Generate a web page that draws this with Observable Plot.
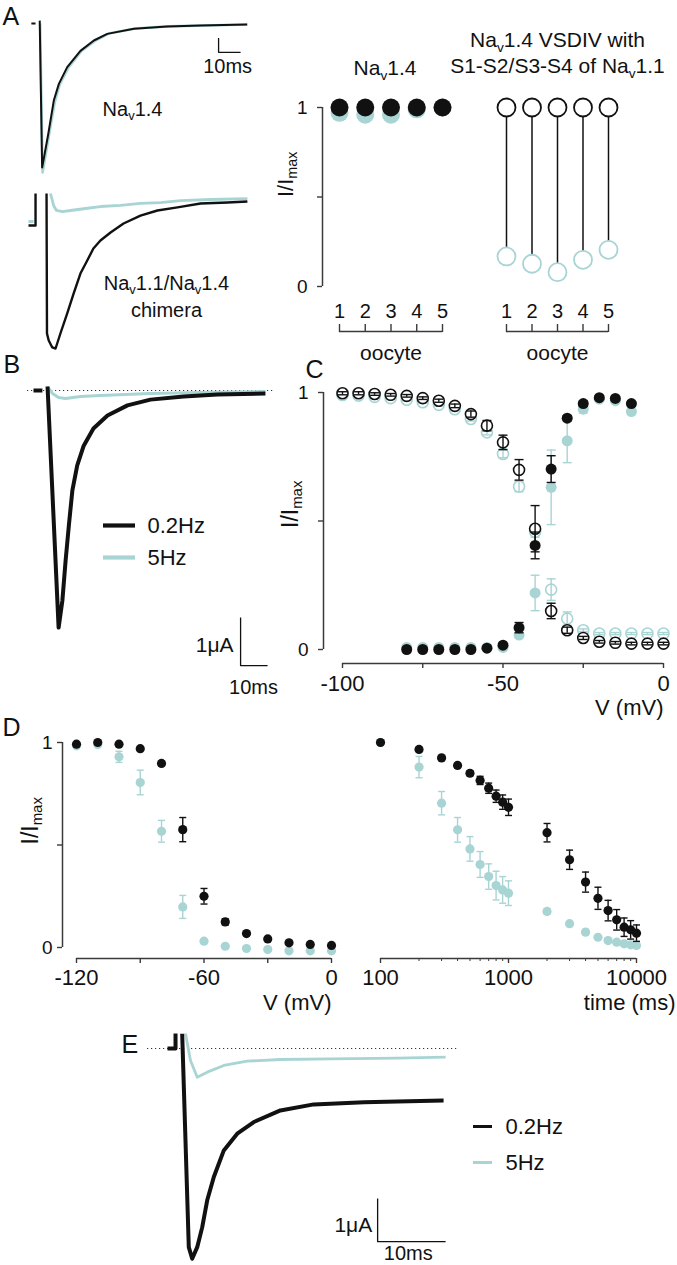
<!DOCTYPE html>
<html><head><meta charset="utf-8">
<script src="https://cdn.jsdelivr.net/npm/d3@7"></script>
<script src="https://cdn.jsdelivr.net/npm/@observablehq/plot@0.6"></script>
<style>
html,body{margin:0;padding:0;background:#fff;}
#fig{position:relative;width:677px;height:1265px;overflow:hidden;background:#fff;}
#fig svg{position:absolute;overflow:visible;}
</style></head><body><div id="fig"></div>
<script>
// ================= DATA =================
// Panel A – current traces (time in ms, normalized current); NaN = gap
const traceA_Nav14_02Hz = [
 {t:1.3,I:0},{t:3.2,I:0},{t:3.3,I:NaN},
 {t:5.1,I:0.02},{t:6.2,I:-1.0},{t:9.0,I:-0.766},{t:11.5,I:-0.535},{t:13.8,I:-0.419},{t:17.6,I:-0.303},
 {t:23.6,I:-0.19},{t:29.7,I:-0.118},{t:35.8,I:-0.072},{t:47.9,I:-0.037},{t:63,I:-0.021},{t:78.2,I:-0.014},{t:99.4,I:-0.007}
];
const traceA_Nav14_5Hz = [
 {t:5.3,I:0.0},{t:6.4,I:-1.035},{t:9.3,I:-0.778},{t:12.0,I:-0.54},{t:14.3,I:-0.42},{t:18.2,I:-0.305},
 {t:24.1,I:-0.19},{t:30.5,I:-0.118},{t:36.4,I:-0.07},{t:48.6,I:-0.035},{t:63.2,I:-0.02},{t:99.5,I:-0.007}
];
const traceA_Chim_02Hz = [
 {t:0,I:-0.196},{t:3.2,I:-0.196},{t:3.2,I:0.013},{t:3.3,I:NaN},
 {t:8.2,I:0.013},{t:8.4,I:-0.902},{t:9.2,I:-0.948},{t:10.8,I:-0.993},{t:12.3,I:-1.0},{t:14.5,I:-0.902},
 {t:17.6,I:-0.771},{t:20.5,I:-0.641},{t:23.6,I:-0.51},{t:26.7,I:-0.425},{t:29.5,I:-0.346},{t:32.7,I:-0.294},
 {t:37.3,I:-0.242},{t:43.2,I:-0.183},{t:50.9,I:-0.131},{t:58.6,I:-0.098},{t:67.7,I:-0.078},{t:78.2,I:-0.052},
 {t:90.5,I:-0.046},{t:99.5,I:-0.039}
];
const traceA_Chim_5Hz = [
 {t:0,I:-0.17},{t:2.3,I:-0.17},{t:2.4,I:NaN},
 {t:10,I:0.013},{t:11.4,I:-0.065},{t:12.7,I:-0.098},{t:15.5,I:-0.105},{t:19.1,I:-0.098},{t:25.9,I:-0.085},
 {t:32.7,I:-0.072},{t:41.8,I:-0.065},{t:50.9,I:-0.052},{t:60,I:-0.046},{t:69.1,I:-0.033},{t:82.7,I:-0.026},{t:99.5,I:-0.02}
];
const scaleBarA = [{t:86.4,I:-0.1},{t:86.4,I:-0.2},{t:96.4,I:-0.2}];

// Panel A – per-oocyte normalized currents
const oocytes = [1,2,3,4,5];
const nav14_02Hz = [1,1,1,1,1];
const nav14_5Hz = [0.97,0.96,0.96,0.99,1.0];
const chim_02Hz = [1,1,1,1,1];
const chim_5Hz = [0.168,0.127,0.080,0.149,0.205];

// Panel B – trace (ms, μA)
const traceB_02Hz = [
 {t:0,I:0},{t:3.3,I:0},{t:3.4,I:NaN},
 {t:5.2,I:0.083},{t:9.3,I:-4.94},{t:10.7,I:-4.375},{t:11.9,I:-3.54},{t:13.1,I:-2.81},{t:14.4,I:-2.08},
 {t:16.2,I:-1.56},{t:18.6,I:-1.15},{t:22.2,I:-0.79},{t:27.4,I:-0.52},{t:34.8,I:-0.31},{t:43.3,I:-0.19},
 {t:55.6,I:-0.125},{t:68.1,I:-0.083},{t:85.9,I:-0.0625}
];
const traceB_5Hz = [
 {t:5.2,I:0.083},{t:7.0,I:-0.0625},{t:9.3,I:-0.146},{t:11.9,I:-0.167},{t:17.4,I:-0.125},{t:24.8,I:-0.104},
 {t:43.3,I:-0.0625},{t:61.9,I:-0.042},{t:85.9,I:-0.021}
];
const scaleBarB = [{t:76.7,I:-4.73},{t:76.7,I:-5.73},{t:86.7,I:-5.73}];

// Panel C – activation / inactivation (mV)
const vInact = [-100,-95,-90,-85,-80,-75,-70,-65,-60,-55,-50,-45,-40,-35,-30,-25,-20,-15,-10,-5,0];
const inact02 = [0.997,0.997,0.994,0.991,0.987,0.978,0.968,0.948,0.916,0.871,0.806,0.699,0.470,0.150,0.075,0.045,0.030,0.026,0.023,0.023,0.023];
const inact02Err = [0.006,0.006,0.005,0.005,0.005,0.005,0.006,0.007,0.012,0.02,0.028,0.04,0.09,0.03,0.012,0.006,0.005,0.005,0.005,0.005,0.005];
const inact5 = [0.990,0.988,0.983,0.978,0.972,0.962,0.952,0.935,0.897,0.845,0.761,0.634,0.457,0.233,0.120,0.075,0.062,0.062,0.062,0.062,0.062];
const inact5Err = [0.004,0.004,0.004,0.004,0.004,0.004,0.005,0.006,0.008,0.01,0.015,0.02,0.02,0.042,0.026,0.005,0.004,0.004,0.004,0.004,0.004];
const vAct = [-80,-75,-70,-65,-60,-55,-50,-45,-40,-35,-30,-25,-20,-15,-10];
const act02 = [0,0,0,0,0,0.005,0.017,0.085,0.405,0.702,0.900,0.957,0.980,0.977,0.957];
const act02Err = [0.003,0.003,0.003,0.003,0.003,0.003,0.005,0.02,0.052,0.052,0.01,0.01,0.005,0.005,0.008];
const act5 = [0.008,0.008,0.008,0.008,0.008,0.008,0.008,0.056,0.22,0.631,0.812,0.935,0.974,0.968,0.926];
const act5Err = [0.003,0.003,0.003,0.003,0.003,0.003,0.004,0.01,0.069,0.145,0.085,0.015,0.005,0.005,0.008];

// Panel D – steady-state inactivation (mV) and recovery vs time (ms)
const vSS = [-120,-110,-100,-90,-80,-70,-60,-50,-40,-30,-20,-10,0];
const ss02 = [0.992,1.0,0.992,0.970,0.898,0.575,0.250,0.125,0.068,0.042,0.023,0.015,0.010];
const ss02Err = [0.004,0.004,0.005,0.006,0.01,0.059,0.038,0.015,0.008,0.005,0.004,0.004,0.004];
const ss5 = [0.984,0.99,0.930,0.805,0.567,0.198,0.031,0.006,-0.005,-0.010,-0.016,-0.016,-0.016];
const ss5Err = [0.005,0.005,0.027,0.06,0.053,0.056,0.008,0.005,0.004,0.004,0.004,0.004,0.004];
const tRec = [100,200,300,400,500,600,700,800,900,1000,2000,3000,4000,5000,6000,7000,8000,9000,10000];
const rec02 = [1.0,0.966,0.925,0.888,0.85,0.815,0.777,0.738,0.709,0.684,0.56,0.428,0.319,0.24,0.18,0.135,0.099,0.086,0.07];
const rec02Err = [0.004,0.006,0.008,0.01,0.012,0.02,0.025,0.03,0.035,0.04,0.045,0.047,0.049,0.054,0.05,0.05,0.045,0.045,0.04];
const rec5 = [1.0,0.88,0.704,0.574,0.481,0.405,0.346,0.302,0.281,0.265,0.176,0.116,0.075,0.05,0.034,0.026,0.018,0.013,0.01];
const rec5Err = [0.004,0.052,0.057,0.06,0.06,0.063,0.062,0.07,0.065,0.06,0.012,0.005,0.005,0.004,0.004,0.004,0.004,0.004,0.004];

// Panel E – trace (ms, μA)
const traceE_02Hz = [
 {t:0,I:0},{t:1.18,I:0},{t:1.18,I:0.35},{t:1.3,I:NaN},
 {t:2.16,I:0.342},{t:3.13,I:-4.62},{t:3.63,I:-4.89},{t:4.37,I:-4.62},{t:5.1,I:-4.16},{t:5.84,I:-3.53},
 {t:6.81,I:-2.99},{t:8.28,I:-2.37},{t:10.25,I:-1.98},{t:12.69,I:-1.71},{t:16.6,I:-1.44},{t:21.5,I:-1.30},
 {t:28.9,I:-1.25},{t:33.8,I:-1.23},{t:40.6,I:-1.21}
];
const traceE_5Hz = [
 {t:2.65,I:0.35},{t:3.38,I:-0.28},{t:4.37,I:-0.667},{t:5.84,I:-0.55},{t:8.28,I:-0.395},{t:11.72,I:-0.295},
 {t:16.6,I:-0.256},{t:24,I:-0.24},{t:33.8,I:-0.226},{t:40.9,I:-0.202}
];
const scaleBarE = [{t:30.9,I:-3.49},{t:30.9,I:-4.49},{t:40.9,I:-4.49}];

const legendLabels = ["0.2Hz","5Hz"];

// ================= STYLE / HELPERS =================
const BLACK = "#111", CYAN = "#a8d4d4", AXIS = "#3a3a3a";
const FONT = '"Liberation Sans", Arial, Helvetica, sans-serif';
const fig = document.getElementById("fig");

function place({left, top, width, height, frame, xs = {}, ys = {}, marks, color}) {
  const [fl, ft, fr, fb] = frame;
  const x = {...xs}; if (xs.range) x.range = xs.range.map(v => v - left);
  const y = {...ys}; if (ys.range) y.range = ys.range.map(v => v - top);
  const opts = {
    width, height,
    marginLeft: fl - left, marginTop: ft - top, marginRight: left + width - fr, marginBottom: top + height - fb,
    x, y,
    style: {fontFamily: FONT, fontSize: "20px", color: BLACK, background: "transparent", overflow: "visible"},
    marks
  };
  if (color) opts.color = color;
  const p = Plot.plot(opts);
  p.style.left = left + "px"; p.style.top = top + "px";
  fig.appendChild(p);
  return p;
}

const capSymbol = {draw(ctx, size) { const w = Math.sqrt(size / Math.PI); ctx.moveTo(-w, 0); ctx.lineTo(w, 0); }};
function rows(xs, ys, es) { return xs.map((x, i) => ({x, y: ys[i], e: es ? es[i] : 0})); }
function errMarks(data, color, cap, sw = 1.4) {
  return [
    Plot.ruleX(data, {x: "x", y1: d => d.y - d.e, y2: d => d.y + d.e, stroke: color, strokeWidth: sw}),
    Plot.dot(data, {x: "x", y: d => d.y + d.e, symbol: capSymbol, r: cap, stroke: color, strokeWidth: sw, fill: "none"}),
    Plot.dot(data, {x: "x", y: d => d.y - d.e, symbol: capSymbol, r: cap, stroke: color, strokeWidth: sw, fill: "none"})
  ];
}
const tf01 = d => (d === 0.5 ? "" : String(d));
const lineOpts = (c, w) => ({x: "t", y: "I", stroke: c, strokeWidth: w, strokeLinejoin: "round", strokeLinecap: "butt"});
const letter = (s, dx, dy) => Plot.text([s], {frameAnchor: "top-left", dx, dy, lineAnchor: "top", textAnchor: "start", fontSize: 25});

// ================= PANEL A =================
place({left: 0, top: 0, width: 270, height: 180, frame: [0, 0, 270, 180],
  xs: {domain: [0, 100], range: [28, 248], axis: null}, ys: {domain: [-1, 0], range: [167, 23], axis: null},
  marks: [
    Plot.line(traceA_Nav14_5Hz, lineOpts(CYAN, 2.6)),
    Plot.line(traceA_Nav14_02Hz, lineOpts(BLACK, 2)),
    Plot.line(scaleBarA, lineOpts(BLACK, 1.3)),
    Plot.text(["10ms"], {x: 90.5, y: -0.30, fontSize: 20}),
    Plot.text(["Na{v}1.4"], {x: 47.3, y: -0.60, fontSize: 20}),
    letter("A", 2, 7)
  ]});

place({left: 0, top: 180, width: 270, height: 180, frame: [0, 180, 270, 360],
  xs: {domain: [0, 100], range: [28, 248], axis: null}, ys: {domain: [-1, 0], range: [348, 195], axis: null},
  marks: [
    Plot.line(traceA_Chim_5Hz, lineOpts(CYAN, 2.8)),
    Plot.line(traceA_Chim_02Hz, lineOpts(BLACK, 2.4)),
    Plot.text(["Na{v}1.1/Na{v}1.4"], {x: 62.7, y: -0.575, fontSize: 20}),
    Plot.text(["chimera"], {x: 62.7, y: -0.75, fontSize: 20})
  ]});

// oocyte dot plots
place({left: 270, top: 0, width: 190, height: 300, frame: [322, 107, 460, 286],
  xs: {domain: [1, 5], range: [339, 442], axis: null}, ys: {domain: [0, 1]},
  marks: [
    Plot.ruleX([1], {y1: 0, y2: 1, dx: -17, stroke: AXIS, strokeWidth: 1.5}),
    Plot.axisY({ticks: [0, 0.5, 1], tickFormat: tf01, tickSize: 5, tickPadding: 10, fontSize: 19, stroke: AXIS, strokeWidth: 1.4, label: null}),
    Plot.dot(rows(oocytes, nav14_5Hz), {x: "x", y: "y", r: 9, fill: CYAN}),
    Plot.dot(rows(oocytes, nav14_02Hz), {x: "x", y: "y", r: 9, fill: BLACK}),
    Plot.text(["I/I{max}"], {frameAnchor: "left", dx: -37, rotate: -90, fontSize: 22}),
    Plot.text(["Na{v}1.4"], {x: 3, frameAnchor: "top", dx: -6, dy: -47, fontSize: 21})
  ]});
place({left: 440, top: 0, width: 237, height: 300, frame: [490, 107, 640, 286],
  xs: {domain: [1, 5], range: [506, 608], axis: null}, ys: {domain: [0, 1], axis: null},
  marks: [
    Plot.ruleX(oocytes.map((o, i) => ({x: o, lo: chim_5Hz[i], hi: chim_02Hz[i]})), {x: "x", y1: "lo", y2: "hi", stroke: BLACK, strokeWidth: 1.5}),
    Plot.dot(rows(oocytes, chim_5Hz), {x: "x", y: "y", r: 9, fill: "white", stroke: CYAN, strokeWidth: 1.8}),
    Plot.dot(rows(oocytes, chim_02Hz), {x: "x", y: "y", r: 9, fill: "white", stroke: BLACK, strokeWidth: 1.8}),
    Plot.text(["Na{v}1.4 VSDIV with"], {x: 3, frameAnchor: "top", dy: -75, fontSize: 21}),
    Plot.text(["S1-S2/S3-S4 of Na{v}1.1"], {x: 3, frameAnchor: "top", dy: -49, fontSize: 21})
  ]});
function oocyteAxis(x0, x1) {
  place({left: x0 - 20, top: 295, width: x1 - x0 + 40, height: 70, frame: [x0, 331, x1, 365],
    xs: {domain: [1, 5]}, ys: {domain: [0, 1], range: [331, 365], axis: null},
    marks: [
      Plot.ruleY([0], {x1: 1, x2: 5, stroke: AXIS, strokeWidth: 1.5}),
      Plot.axisX({ticks: oocytes, tickFormat: d => String(d), anchor: "top", tickSize: 8, tickPadding: 6, fontSize: 20, stroke: AXIS, strokeWidth: 1.4, label: null}),
      Plot.text(["oocyte"], {frameAnchor: "top", dy: 14, fontSize: 21})
    ]});
}
oocyteAxis(339, 442);
oocyteAxis(506, 608);

// ================= PANEL B =================
place({left: 0, top: 350, width: 300, height: 350, frame: [27, 355, 273, 700],
  xs: {domain: [0, 100], range: [33, 303], axis: null}, ys: {domain: [-5, 0], range: [630, 390], axis: null},
  marks: [
    Plot.ruleY([0], {stroke: "#333", strokeWidth: 1.2, strokeDasharray: "1.2,2.8"}),
    Plot.line(traceB_5Hz, lineOpts(CYAN, 3)),
    Plot.line(traceB_02Hz, lineOpts(BLACK, 4)),
    Plot.line(scaleBarB, lineOpts(BLACK, 1.3)),
    Plot.text(["1μA"], {x: 74.1, y: -5.31, textAnchor: "end", fontSize: 21}),
    Plot.text(["10ms"], {x: 81.5, y: -6.19, fontSize: 20}),
    letter("B", -24, 0)
  ]});
function legend(left, top, x0, x1, y0, y1, sw, dx) {
  place({left, top, width: 140, height: (y1 - y0) + 40, frame: [left, top, left + 140, top + (y1 - y0) + 40],
    xs: {domain: [0, 1], range: [x0, x1], axis: null},
    ys: {type: "point", domain: legendLabels, range: [y0, y1], padding: 0, axis: null},
    color: {domain: legendLabels, range: [BLACK, CYAN]},
    marks: [
      Plot.ruleY(legendLabels, {y: d => d, x1: 0, x2: 1, stroke: d => d, strokeWidth: sw}),
      Plot.text(legendLabels, {x: 1, y: d => d, dx, textAnchor: "start", fontSize: 22, fill: BLACK})
    ]});
}
legend(95, 505, 103, 135, 525, 557, 4.2, 12);

// ================= PANEL C =================
place({left: 280, top: 355, width: 397, height: 370, frame: [323, 392, 663, 663],
  xs: {domain: [-100, 0], range: [342, 663]}, ys: {domain: [0, 1], range: [649, 392]},
  marks: [
    Plot.ruleX([-100], {y1: 0, y2: 1, dx: -19, stroke: AXIS, strokeWidth: 1.5}),
    Plot.ruleY([0], {x1: -100, x2: 0, dy: 14, stroke: AXIS, strokeWidth: 1.5}),
    Plot.axisY({ticks: [0, 0.5, 1], tickFormat: tf01, tickSize: 5, tickPadding: 10, fontSize: 19, stroke: AXIS, strokeWidth: 1.4, label: null}),
    Plot.axisX({ticks: [-100, -75, -50, -25, 0], tickFormat: d => (d % 50 === 0 ? String(d) : ""), tickSize: 5, tickPadding: 7, fontSize: 22, stroke: AXIS, strokeWidth: 1.4, label: null}),
    Plot.dot(rows(vInact, inact5), {x: "x", y: "y", r: 5.5, fill: "white", stroke: CYAN, strokeWidth: 1.6}),
    ...errMarks(rows(vInact, inact5, inact5Err), CYAN, 4.5),
    ...errMarks(rows(vAct, act5, act5Err), CYAN, 4.5),
    Plot.dot(rows(vAct, act5), {x: "x", y: "y", r: 5.5, fill: CYAN}),
    Plot.dot(rows(vInact, inact02), {x: "x", y: "y", r: 5.5, fill: "white", stroke: BLACK, strokeWidth: 1.6}),
    ...errMarks(rows(vInact, inact02, inact02Err), BLACK, 4.5),
    ...errMarks(rows(vAct, act02, act02Err), BLACK, 4.5),
    Plot.dot(rows(vAct, act02), {x: "x", y: "y", r: 5.5, fill: BLACK}),
    Plot.text(["I/I{max}"], {frameAnchor: "left", dx: -33, rotate: -90, fontSize: 23}),
    Plot.text(["V (mV)"], {frameAnchor: "bottom-right", dy: 51, textAnchor: "end", fontSize: 22}),
    letter("C", -18, -32)
  ]});

// ================= PANEL D =================
place({left: 0, top: 700, width: 340, height: 320, frame: [62, 730, 331, 958],
  xs: {domain: [-120, 0], range: [76, 331]}, ys: {domain: [0, 1], range: [947, 742]},
  marks: [
    Plot.ruleX([-120], {y1: 0, y2: 1, dx: -14, stroke: AXIS, strokeWidth: 1.5}),
    Plot.ruleY([0], {x1: -120, x2: 0, dy: 11, stroke: AXIS, strokeWidth: 1.5}),
    Plot.axisY({ticks: [0, 0.5, 1], tickFormat: tf01, tickSize: 5, tickPadding: 5, fontSize: 19, stroke: AXIS, strokeWidth: 1.4, label: null}),
    Plot.axisX({ticks: [-120, -90, -60, -30, 0], tickFormat: d => (d % 60 === 0 ? String(d) : ""), tickSize: 5, tickPadding: 6, fontSize: 22, stroke: AXIS, strokeWidth: 1.4, label: null}),
    ...errMarks(rows(vSS, ss5, ss5Err), CYAN, 3.5),
    Plot.dot(rows(vSS, ss5), {x: "x", y: "y", r: 4.6, fill: CYAN}),
    ...errMarks(rows(vSS, ss02, ss02Err), BLACK, 3.5),
    Plot.dot(rows(vSS, ss02), {x: "x", y: "y", r: 4.6, fill: BLACK}),
    Plot.text(["I/I{max}"], {frameAnchor: "left", dx: -32, rotate: -90, fontSize: 23}),
    Plot.text(["V (mV)"], {frameAnchor: "bottom-right", dy: 51, textAnchor: "end", fontSize: 22}),
    letter("D", -60, -12)
  ]});
place({left: 340, top: 700, width: 337, height: 320, frame: [360, 730, 675, 958],
  xs: {type: "log", domain: [100, 10000], range: [380, 636]}, ys: {domain: [0, 1], range: [947, 742], axis: null},
  marks: [
    Plot.ruleY([0], {x1: 100, x2: 10000, dy: 11, stroke: AXIS, strokeWidth: 1.5}),
    Plot.axisX({ticks: [100, 1000, 10000], tickFormat: d => String(d), tickSize: 5, tickPadding: 6, fontSize: 22, stroke: AXIS, strokeWidth: 1.4, label: null}),
    Plot.axisX({ticks: [200,300,400,500,600,700,800,900,2000,3000,4000,5000,6000,7000,8000,9000], tickFormat: () => "", tickSize: 3, stroke: AXIS, strokeWidth: 1, label: null}),
    ...errMarks(rows(tRec, rec5, rec5Err), CYAN, 3.5),
    Plot.dot(rows(tRec, rec5), {x: "x", y: "y", r: 4.6, fill: CYAN}),
    ...errMarks(rows(tRec, rec02, rec02Err), BLACK, 3.5),
    Plot.dot(rows(tRec, rec02), {x: "x", y: "y", r: 4.6, fill: BLACK}),
    Plot.text(["time (ms)"], {frameAnchor: "bottom-right", dy: 51, textAnchor: "end", fontSize: 22})
  ]});

// ================= PANEL E =================
place({left: 110, top: 1020, width: 367, height: 245, frame: [147, 1030, 458, 1265],
  xs: {domain: [0, 40], range: [167, 439], axis: null}, ys: {domain: [-5, 0], range: [1263, 1048], axis: null},
  marks: [
    Plot.ruleY([0], {stroke: "#333", strokeWidth: 1.2, strokeDasharray: "1.2,2.8"}),
    Plot.line(traceE_5Hz, lineOpts(CYAN, 2.8)),
    Plot.line(traceE_02Hz, lineOpts(BLACK, 4)),
    Plot.line(scaleBarE, lineOpts(BLACK, 1.3)),
    Plot.text(["1μA"], {x: 30.1, y: -4.12, textAnchor: "end", fontSize: 21}),
    Plot.text(["10ms"], {x: 35.4, y: -4.78, fontSize: 20}),
    letter("E", -26, 5)
  ]});
legend(465, 1105, 473, 492, 1126, 1162, 3, 13);

// ================= SUBSCRIPTS =================
const SVGNS = "http://www.w3.org/2000/svg";
fig.querySelectorAll("text, tspan").forEach(el => {
  Array.from(el.childNodes).forEach(node => {
    if (node.nodeType !== 3 || node.nodeValue.indexOf("{") < 0) return;
    const parts = node.nodeValue.split(/(\{[^}]*\})/);
    const frag = document.createDocumentFragment();
    let reset = false;
    parts.forEach(p => {
      if (!p) return;
      if (p[0] === "{") {
        const s = document.createElementNS(SVGNS, "tspan");
        s.style.fontSize = "0.65em";
        s.setAttribute("dy", "0.3em");
        s.textContent = p.slice(1, -1);
        frag.appendChild(s); reset = true;
      } else if (reset) {
        const s = document.createElementNS(SVGNS, "tspan");
        s.setAttribute("dy", "-0.195em");
        s.textContent = p;
        frag.appendChild(s); reset = false;
      } else frag.appendChild(document.createTextNode(p));
    });
    el.replaceChild(frag, node);
  });
});
</script></body></html>
